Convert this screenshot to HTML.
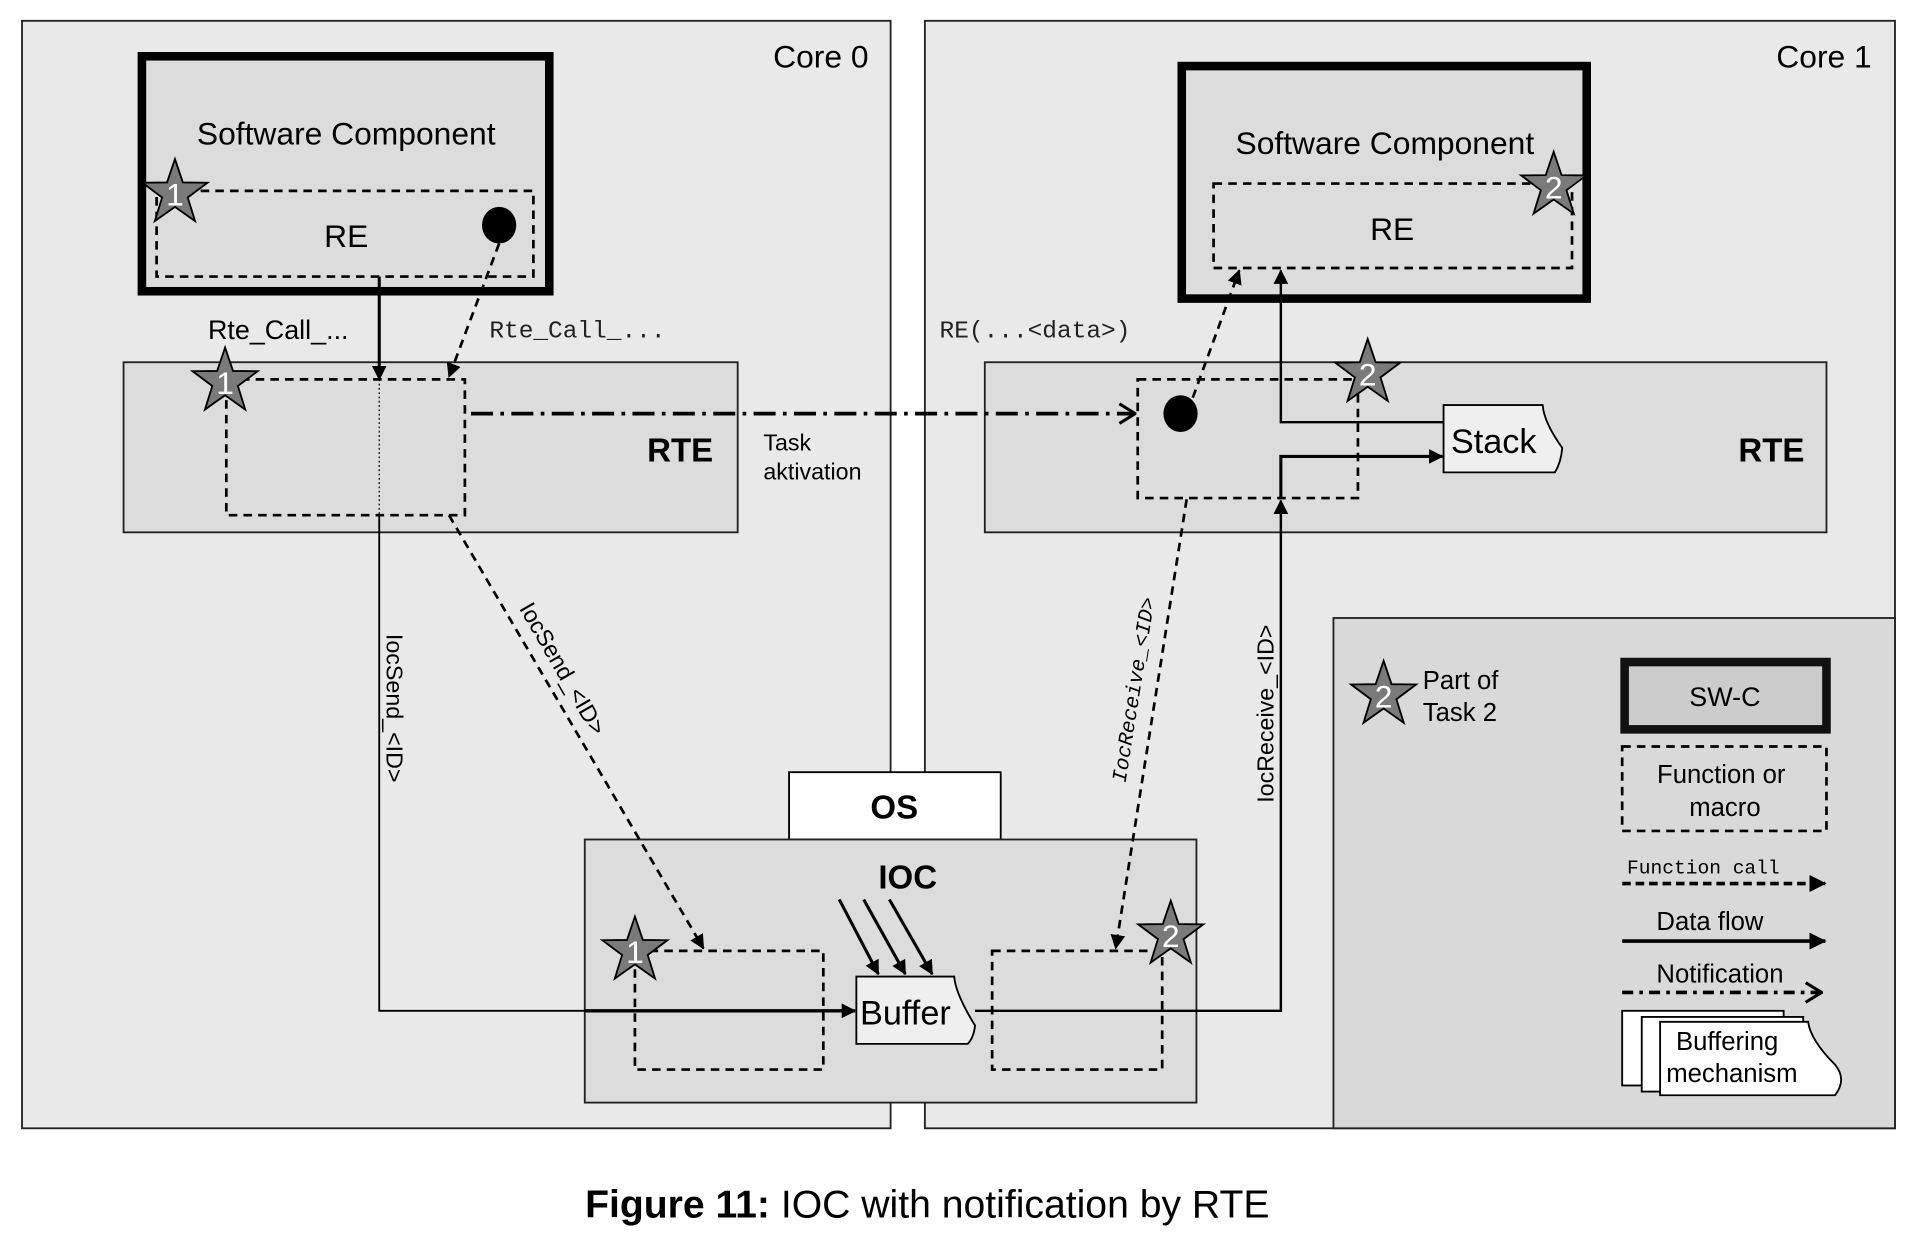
<!DOCTYPE html>
<html><head><meta charset="utf-8"><style>html,body{margin:0;padding:0;background:#fff}svg{display:block}</style></head>
<body>
<svg width="1917" height="1247" viewBox="0 0 1567 1019" preserveAspectRatio="none" xmlns="http://www.w3.org/2000/svg" font-family="'Liberation Sans', sans-serif">
<defs>
<marker id="fa" markerWidth="12" markerHeight="12" refX="11" refY="6" orient="auto" markerUnits="userSpaceOnUse" viewBox="0 0 12 12"><path d="M0,0 L12,6 L0,12 Z" fill="#000"/></marker>
<marker id="fb" markerWidth="14" markerHeight="14" refX="13" refY="7" orient="auto" markerUnits="userSpaceOnUse" viewBox="0 0 14 14"><path d="M0,0 L14,7 L0,14 Z" fill="#000"/></marker>
<marker id="oa" markerWidth="16" markerHeight="18" refX="15" refY="9" orient="auto" markerUnits="userSpaceOnUse" viewBox="0 0 16 18"><path d="M2,1 L15,9 L2,17" fill="none" stroke="#000" stroke-width="2.5"/></marker>
<g id="star"><polygon points="0,-28 6.47,-8.9 26.6,-8.65 10.46,3.4 16.46,22.65 0,11 -16.46,22.65 -10.46,3.4 -26.6,-8.65 -6.47,-8.9" fill="#7a7a7a" stroke="#000" stroke-width="1.5"/></g>
</defs>
<rect x="18" y="17" width="710" height="905" fill="#e9e9e9" stroke="#222" stroke-width="1.5"/>
<rect x="756" y="17" width="793" height="905" fill="#e9e9e9" stroke="#222" stroke-width="1.5"/>
<text x="710" y="55" font-size="26" text-anchor="end">Core 0</text>
<text x="1530" y="55" font-size="26" text-anchor="end">Core 1</text>
<rect x="1090" y="505" width="459" height="417" fill="#d9d9d9" stroke="#222" stroke-width="1.5"/>
<rect x="116" y="46" width="333" height="192" fill="#dcdcdc" stroke="#000" stroke-width="7"/>
<text x="283" y="118" font-size="26" text-anchor="middle">Software Component</text>
<rect x="128" y="156" width="308" height="70" fill="none" stroke="#000" stroke-width="2.2" stroke-dasharray="7,5"/>
<text x="283" y="202" font-size="26" text-anchor="middle">RE</text>
<ellipse cx="408" cy="184" rx="14" ry="15" fill="#000"/>
<g transform="translate(143,158)"><use href="#star"/><text x="0" y="10" font-size="26" fill="#fff" text-anchor="middle">1</text></g>
<rect x="966" y="54" width="331" height="190" fill="#dcdcdc" stroke="#000" stroke-width="7"/>
<text x="1132" y="126" font-size="26" text-anchor="middle">Software Component</text>
<rect x="992" y="150" width="293" height="69" fill="none" stroke="#000" stroke-width="2.2" stroke-dasharray="7,5"/>
<text x="1138" y="196" font-size="26" text-anchor="middle">RE</text>
<rect x="101" y="296" width="502" height="139" fill="#dcdcdc" stroke="#222" stroke-width="1.5"/>
<text x="583" y="377" font-size="27" font-weight="bold" text-anchor="end">RTE</text>
<rect x="185" y="310" width="195" height="111" fill="none" stroke="#000" stroke-width="2.2" stroke-dasharray="7,5"/>
<line x1="310" y1="310" x2="310" y2="421" stroke="#000" stroke-width="1" stroke-dasharray="1.5,2"/>
<rect x="805" y="296" width="688" height="139" fill="#dcdcdc" stroke="#222" stroke-width="1.5"/>
<text x="1475" y="377" font-size="27" font-weight="bold" text-anchor="end">RTE</text>
<rect x="930" y="310" width="180" height="97" fill="none" stroke="#000" stroke-width="2.2" stroke-dasharray="7,5"/>
<ellipse cx="965" cy="338" rx="14" ry="15" fill="#000"/>
<path d="M1180,331 H1261 Q1262,345 1277,366 Q1276,378 1271,386 H1180 Z" fill="#efefef" stroke="#000" stroke-width="1.5"/>
<text x="1186" y="370" font-size="28">Stack</text>
<line x1="310" y1="226" x2="310" y2="310" stroke="#000" stroke-width="2.5" marker-end="url(#fa)"/>
<line x1="408" y1="199" x2="367" y2="308" stroke="#000" stroke-width="2.2" stroke-dasharray="7,5" marker-end="url(#fa)"/>
<text x="170" y="277" font-size="22">Rte_Call_...</text>
<text x="400" y="276" font-size="20" font-family="'Liberation Mono', monospace" fill="#222">Rte_Call_...</text>
<text x="768" y="276" font-size="20" font-family="'Liberation Mono', monospace" fill="#222">RE(...&lt;data&gt;)</text>
<line x1="385" y1="338" x2="928" y2="338" stroke="#000" stroke-width="3" stroke-dasharray="18,6,3,6" marker-end="url(#oa)"/>
<text x="624" y="368" font-size="19">Task</text>
<text x="624" y="392" font-size="19">aktivation</text>
<line x1="975" y1="325" x2="1013" y2="221" stroke="#000" stroke-width="2.2" stroke-dasharray="7,5" marker-end="url(#fa)"/>
<polyline points="1180,345 1047,345 1047,221" fill="none" stroke="#000" stroke-width="2" marker-end="url(#fa)"/>
<polyline points="1047,407 1047,373 1179,373" fill="none" stroke="#000" stroke-width="2.5" marker-end="url(#fa)"/>
<g transform="translate(1270,152)"><use href="#star"/><text x="0" y="10" font-size="26" fill="#fff" text-anchor="middle">2</text></g>
<g transform="translate(1118,305)"><use href="#star"/><text x="0" y="10" font-size="26" fill="#fff" text-anchor="middle">2</text></g>
<g transform="translate(184,312)"><use href="#star"/><text x="0" y="10" font-size="26" fill="#fff" text-anchor="middle">1</text></g>
<rect x="645" y="631" width="173" height="55" fill="#fff" stroke="#000" stroke-width="1.5"/>
<text x="731" y="669" font-size="27" font-weight="bold" text-anchor="middle">OS</text>
<rect x="478" y="686" width="500" height="215" fill="#dcdcdc" stroke="#222" stroke-width="1.5"/>
<text x="742" y="726" font-size="27" font-weight="bold" text-anchor="middle">IOC</text>
<rect x="519" y="777" width="154" height="97" fill="none" stroke="#000" stroke-width="2.2" stroke-dasharray="7,5"/>
<rect x="811" y="777" width="139" height="97" fill="none" stroke="#000" stroke-width="2.2" stroke-dasharray="7,5"/>
<path d="M700,798 H780 Q781,812 797,838 Q796,848 791,853 H700 Z" fill="#efefef" stroke="#000" stroke-width="1.5"/>
<text x="703" y="837" font-size="28">Buffer</text>
<line x1="686" y1="735" x2="718" y2="796" stroke="#000" stroke-width="2.5" marker-end="url(#fa)"/>
<line x1="706" y1="735" x2="740" y2="796" stroke="#000" stroke-width="2.5" marker-end="url(#fa)"/>
<line x1="727" y1="735" x2="762" y2="796" stroke="#000" stroke-width="2.5" marker-end="url(#fa)"/>
<polyline points="310,421 310,826 478,826" fill="none" stroke="#000" stroke-width="1.5"/>
<line x1="478" y1="826" x2="699" y2="826" stroke="#000" stroke-width="2.8" marker-end="url(#fa)"/>
<polyline points="797,826 1047,826 1047,409" fill="none" stroke="#000" stroke-width="2" marker-end="url(#fa)"/>
<line x1="367" y1="421" x2="575" y2="775" stroke="#000" stroke-width="2.2" stroke-dasharray="7,5" marker-end="url(#fa)"/>
<line x1="970" y1="408" x2="912" y2="775" stroke="#000" stroke-width="2.2" stroke-dasharray="7,5" marker-end="url(#fa)"/>
<text transform="translate(316,518) rotate(90)" font-size="19">IocSend_&lt;ID&gt;</text>
<text transform="translate(424,497) rotate(60)" font-size="19">IocSend_&lt;ID&gt;</text>
<text transform="translate(1041,656) rotate(-90)" font-size="19">IocReceive_&lt;ID&gt;</text>
<text transform="translate(920,640) rotate(-81)" font-size="17" font-family="'Liberation Mono', monospace" font-style="italic">IocReceive_&lt;ID&gt;</text>
<g transform="translate(519,777)"><use href="#star"/><text x="0" y="10" font-size="26" fill="#fff" text-anchor="middle">1</text></g>
<g transform="translate(957,764)"><use href="#star"/><text x="0" y="10" font-size="26" fill="#fff" text-anchor="middle">2</text></g>
<g transform="translate(1131,568)"><use href="#star"/><text x="0" y="10" font-size="26" fill="#fff" text-anchor="middle">2</text></g>
<text x="1163" y="563" font-size="21">Part of</text>
<text x="1163" y="589" font-size="21">Task 2</text>
<rect x="1328" y="541" width="165" height="55" fill="#cccccc" stroke="#111" stroke-width="7"/>
<text x="1410" y="577" font-size="22" text-anchor="middle">SW-C</text>
<rect x="1326" y="610" width="167" height="69" fill="none" stroke="#000" stroke-width="2.2" stroke-dasharray="7,5"/>
<text x="1407" y="640" font-size="21" text-anchor="middle">Function or</text>
<text x="1410" y="667" font-size="21" text-anchor="middle">macro</text>
<text x="1330" y="714" font-size="16" font-family="'Liberation Mono', monospace">Function call</text>
<line x1="1326" y1="722" x2="1492" y2="722" stroke="#000" stroke-width="3" stroke-dasharray="7,4" marker-end="url(#fb)"/>
<text x="1354" y="760" font-size="21">Data flow</text>
<line x1="1326" y1="769" x2="1492" y2="769" stroke="#000" stroke-width="3" marker-end="url(#fb)"/>
<text x="1354" y="803" font-size="21">Notification</text>
<line x1="1326" y1="811" x2="1489" y2="811" stroke="#000" stroke-width="3" stroke-dasharray="9,5,3,5" marker-end="url(#oa)"/>
<rect x="1326" y="826" width="132" height="61" fill="#fff" stroke="#000" stroke-width="1.5"/>
<rect x="1342" y="831" width="132" height="61" fill="#fff" stroke="#000" stroke-width="1.5"/>
<path d="M1357,835 H1478 Q1480,850 1500,870 Q1510,882 1500,895 H1357 Z" fill="#fff" stroke="#000" stroke-width="1.5"/>
<text x="1370" y="858" font-size="21">Buffering</text>
<text x="1362" y="884" font-size="21">mechanism</text>
<text x="758" y="995" font-size="32" text-anchor="middle"><tspan font-weight="bold">Figure 11:</tspan> IOC with notification by RTE</text>
</svg>
</body></html>
